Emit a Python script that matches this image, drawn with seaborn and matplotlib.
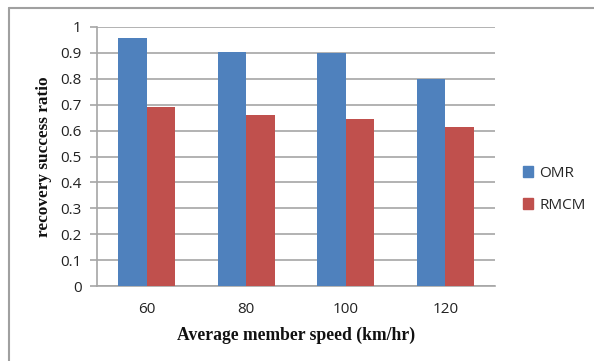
import matplotlib
matplotlib.use("Agg")
import matplotlib.pyplot as plt
import seaborn as sns
import pandas as pd
from matplotlib.lines import Line2D

categories = ["60", "80", "100", "120"]
omr = [0.957, 0.903, 0.898, 0.799]
rmcm = [0.691, 0.659, 0.646, 0.615]
series = ["OMR", "RMCM"]
colors = ["#4F81BD", "#C0504D"]
yticks = [0, 0.1, 0.2, 0.3, 0.4, 0.5, 0.6, 0.7, 0.8, 0.9, 1]
ytick_labels = ["0", "0.1", "0.2", "0.3", "0.4", "0.5", "0.6", "0.7", "0.8", "0.9", "1"]

df = pd.DataFrame({
    "speed": categories * 2,
    "value": omr + rmcm,
    "method": [series[0]] * 4 + [series[1]] * 4,
})

sns.set_theme(style="white")
plt.rcParams['font.family'] = ['Open Sans', 'DejaVu Sans']

W, H = 594, 361
fig = plt.figure(figsize=(W / 100, H / 100), dpi=100)
ax = fig.add_axes([97 / W, (H - 286) / H, (495 - 97) / W, (286 - 27) / H])

sns.barplot(data=df, x="speed", y="value", hue="method", order=categories,
            hue_order=series, palette=colors, width=0.575, gap=0,
            saturation=1, ax=ax, legend=False, edgecolor="none", zorder=3)

ax.set_xlim(-0.5, 3.5)
ax.set_ylim(0, 1)
ax.set_yticks(yticks)
ax.set_yticklabels(ytick_labels)
grid_c = "#A6A6A6"
ax.yaxis.grid(True, color=grid_c, linewidth=1.2, zorder=0)
ax.set_axisbelow(True)
for s in ["top", "right"]:
    ax.spines[s].set_visible(False)
for s in ["left", "bottom"]:
    ax.spines[s].set_color(grid_c)
    ax.spines[s].set_linewidth(1.2)

ax.set_xticks([0, 1, 2, 3])
ax.set_xticklabels(categories)
ax.set_xticks([-0.5, 0.5, 1.5, 2.5, 3.5], minor=True)
ax.tick_params(axis="x", which="major", length=0, pad=11.5, labelsize=11, colors="#222222")
ax.tick_params(axis="x", which="minor", length=5, width=1.2, color=grid_c, direction="out")
ax.tick_params(axis="y", which="major", length=5, width=1.2, color=grid_c, direction="out",
               left=True, pad=6, labelsize=11, labelcolor="#222222")

ax.set_xlabel("Average member speed (km/hr)", fontfamily="Liberation Serif",
              fontweight="bold", fontsize=12.7, labelpad=7, color="#111111")
ax.set_ylabel("recovery success ratio", fontfamily="Liberation Serif",
              fontweight="bold", fontsize=12.4, labelpad=6, color="#111111")

handles = [plt.Rectangle((0, 0), 1, 1, color=c) for c in colors]
fig.legend(handles, series, loc="upper left", bbox_to_anchor=(509 / W, 1 - 152 / H),
           frameon=False, handlelength=0.7, handleheight=0.7, handletextpad=0.4,
           labelspacing=1.1, fontsize=11)

border_c = "#A0A0A0"
fig.add_artist(Line2D([9 / W, 1.0], [1 - 8 / H, 1 - 8 / H], color=border_c, linewidth=1.5,
                      transform=fig.transFigure))
fig.add_artist(Line2D([9 / W, 9 / W], [0, 1 - 8 / H], color=border_c, linewidth=1.5,
                      transform=fig.transFigure))

fig.savefig("out.png", dpi=100)
